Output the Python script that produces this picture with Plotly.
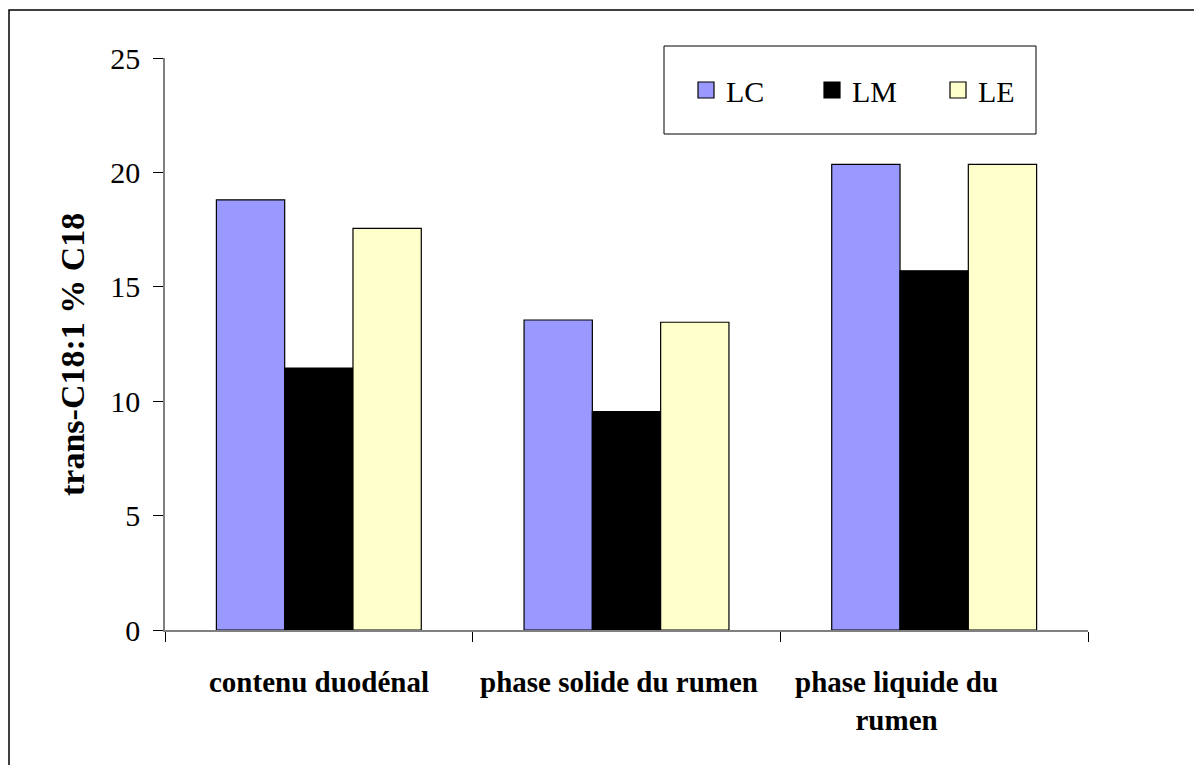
import plotly.graph_objects as go

categories = ["contenu duodénal", "phase solide du rumen", "phase liquide du rumen"]
category_labels = ["contenu duodénal", "phase solide du rumen", "phase liquide du<br>rumen"]
label_xshift = [0, -8, -38]
LC = [18.8, 13.55, 20.35]
LM = [11.45, 9.55, 15.7]
LE = [17.55, 13.45, 20.35]
series_names = ["LC", "LM", "LE"]
series_colors = ["#9999FF", "#000000", "#FFFFCC"]
y_ticks = [0, 5, 10, 15, 20, 25]
y_title = "trans-C18:1 % C18"

W, H = 1194, 765
ML, MR, MT, MB = 165, 106, 58, 135
PW, PH = W - ML - MR, H - MT - MB

def px_x(x):
    return (x - ML) / PW

def px_y(y):
    return (H - MB - y) / PH

FONT = "Liberation Serif, Times New Roman, serif"

fig = go.Figure()
for name, vals, col in zip(series_names, [LC, LM, LE], series_colors):
    fig.add_trace(go.Bar(
        x=categories, y=vals, name=name, showlegend=False,
        marker=dict(color=col, line=dict(color="#000000", width=1.2)),
    ))
# legend entries with larger square keys
for name, col in zip(series_names, series_colors):
    fig.add_trace(go.Scatter(
        x=[None], y=[None], name=name, mode="markers", hoverinfo="skip",
        marker=dict(symbol="square", size=16, color=col, line=dict(color="#000000", width=1.2)),
    ))

annotations = []
for cat, lab, xs in zip(categories, category_labels, label_xshift):
    annotations.append(dict(
        x=cat, y=0, xref="x", yref="y", text="<b>" + lab + "</b>",
        showarrow=False, xanchor="center", yanchor="top", yshift=-34, xshift=xs,
        font=dict(family=FONT, size=29, color="#000000"),
    ))
annotations.append(dict(
    x=px_x(73), y=px_y(355), xref="paper", yref="paper", text="<b>" + y_title + "</b>",
    textangle=-90, showarrow=False, xanchor="center", yanchor="middle",
    font=dict(family=FONT, size=34, color="#000000"),
))

shapes = [
    # outer frame
    dict(type="rect", xref="paper", yref="paper",
         x0=px_x(9), x1=px_x(1200), y0=px_y(10), y1=px_y(775),
         line=dict(color="#000000", width=1.5), fillcolor="rgba(0,0,0,0)", layer="below"),
    # legend box
    dict(type="rect", xref="paper", yref="paper",
         x0=px_x(664), x1=px_x(1036), y0=px_y(46), y1=px_y(134),
         line=dict(color="#000000", width=1), fillcolor="#FFFFFF", layer="below"),
]

fig.update_layout(
    width=W, height=H,
    margin=dict(l=ML, r=MR, t=MT, b=MB, pad=0),
    paper_bgcolor="#FFFFFF", plot_bgcolor="#FFFFFF",
    barmode="group", bargap=0.334, bargroupgap=0,
    font=dict(family=FONT, size=29, color="#000000"),
    showlegend=True,
    legend=dict(
        orientation="h", x=px_x(686), y=px_y(90), xanchor="left", yanchor="middle",
        bgcolor="rgba(0,0,0,0)", borderwidth=0,
        font=dict(family=FONT, size=30, color="#000000"),
        entrywidth=81, entrywidthmode="pixels",
        itemclick=False, itemdoubleclick=False,
    ),
    xaxis=dict(
        showticklabels=False, showgrid=False, zeroline=False,
        showline=True, linecolor="#808080", linewidth=1.5,
        ticks="outside", tickson="boundaries", ticklen=10, tickcolor="#000000", tickwidth=1,
        range=[-0.5, 2.5],
    ),
    yaxis=dict(
        range=[0, 25], tickvals=y_ticks, showgrid=False, zeroline=False,
        showline=True, linecolor="#808080", linewidth=1.5,
        ticks="outside", ticklen=10, tickcolor="#000000", tickwidth=1,
        ticklabelstandoff=7,
        tickfont=dict(family=FONT, size=30, color="#000000"),
    ),
    annotations=annotations,
    shapes=shapes,
)

fig.write_html("out.html")
